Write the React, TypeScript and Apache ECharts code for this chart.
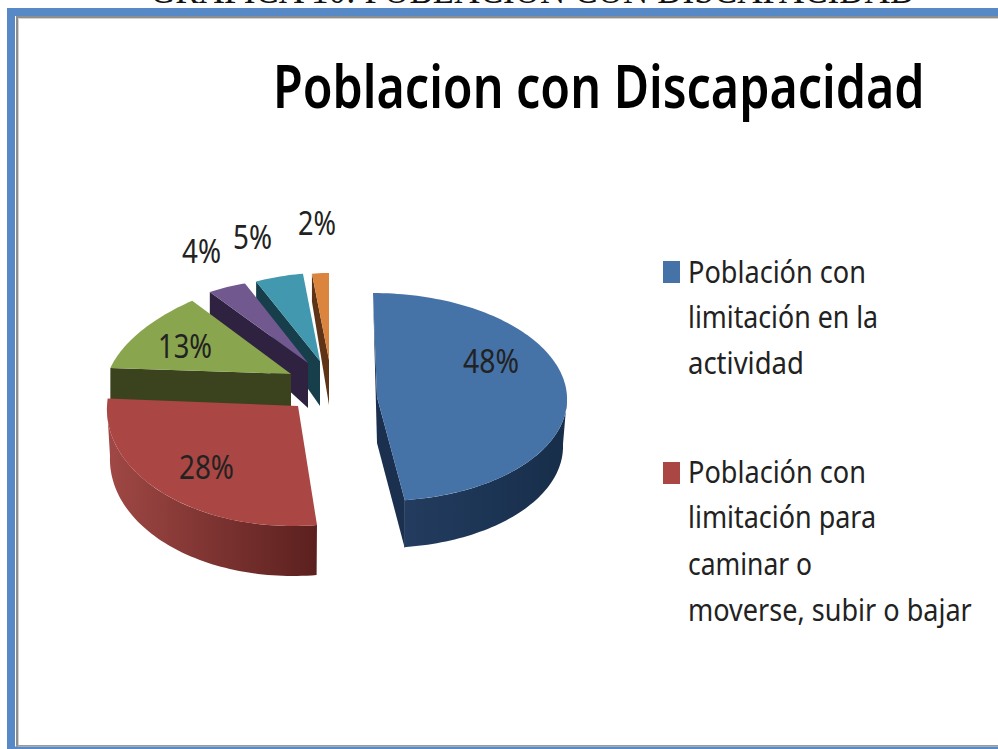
import React, { useEffect, useRef } from "react";
import * as echarts from "echarts";

// ---- data ----
const sliceNames = [
  "Población con limitación en la actividad",
  "Población con limitación para caminar o moverse, subir o bajar",
  "Categoría 3",
  "Categoría 4",
  "Categoría 5",
  "Categoría 6",
];
const sliceValues = [48, 28, 13, 4, 5, 2];
const chartTitle = "Poblacion con Discapacidad";
const croppedHeading = "GRAFICA 10: POBLACION CON DISCAPACIDAD";
const legendEntryOne = ["Población con", "limitación en la", "actividad"];
const legendEntryTwo = ["Población con", "limitación para", "caminar o", "moverse, subir o bajar"];

// ---- styling and layout ----
const topColors = ["#4572a7", "#aa4643", "#89a54e", "#71588f", "#4198af", "#db843d"];
const wallColors = ["#1a304e", "#5e201e", "#3a431e", "#2f2240", "#173f4b", "#5f3416"];
const arcGradients: string[][] = [
  ["#233c5f", "#172e4a"],
  ["#a04845", "#5b201e"],
  ["#000", "#000"],
  ["#000", "#000"],
  ["#000", "#000"],
  ["#000", "#000"],
];
// apex, radii at the start and end of the slice, lean of the vertical axis and wall depths
const sliceGeometry = [
  { ax: 377, ay: 397, rxS: 190, rxE: 190, ryS: 104, ryE: 104, lean: 4, wallIn: 46, wallOut: 48, arcT: 47, arcShrink: 4, sliver: true },
  { ax: 298, ay: 406, rxS: 191, rxE: 191, ryS: 120, ryE: 120, lean: -5, wallIn: 0, wallOut: 0, arcT: 50, arcShrink: 3, sliver: false },
  { ax: 291, ay: 374, rxS: 181, rxE: 155, ryS: 95, ryE: 95, lean: 0, wallIn: 35, wallOut: 33, arcT: 0, arcShrink: 0, sliver: false },
  { ax: 308, ay: 363, rxS: 154, rxE: 148, ryS: 92, ryE: 88, lean: 0, wallIn: 45, wallOut: 26, arcT: 0, arcShrink: 0, sliver: false },
  { ax: 320, ay: 361, rxS: 150, rxE: 136, ryS: 88, ryE: 88, lean: 0, wallIn: 45, wallOut: 33, arcT: 0, arcShrink: 0, sliver: false },
  { ax: 329, ay: 360, rxS: 136, rxE: 136, ryS: 87, ryE: 87, lean: 0, wallIn: 45, wallOut: 28, arcT: 0, arcShrink: 0, sliver: false },
];
const labelBoxes = [
  { left: 463, right: 519, cy: 360.5 },
  { left: 179, right: 234, cy: 466 },
  { left: 158, right: 212, cy: 345 },
  { left: 182, right: 221, cy: 250.5 },
  { left: 233, right: 272, cy: 236.5 },
  { left: 298, right: 336, cy: 222.5 },
];
const legendRows = [
  { lines: legendEntryOne, ys: [271, 316, 362], widths: [178, 190, 116], swatchY: 261, color: topColors[0] },
  { lines: legendEntryTwo, ys: [471, 516, 563, 609], widths: [178, 188, 124, 284], swatchY: 462, color: topColors[1] },
];
const FRAME = "#5689c6";
const TEXT_FONT = '"Noto Sans"';

function fitScale(text: string, font: string, width: number): number {
  const ctx = document.createElement("canvas").getContext("2d");
  if (!ctx) return 1;
  ctx.font = font;
  return width / ctx.measureText(text).width;
}

const toRad = (d: number) => (d * Math.PI) / 180;

function renderSlice(params: any, api: any) {
  const i = api.value(0) as number;
  const total = sliceValues.reduce((a, b) => a + b, 0);
  const before = sliceValues.slice(0, i).reduce((a, b) => a + b, 0);
  const start = (before / total) * 360;
  const end = start + ((api.value(1) as number) / total) * 360;
  const g = sliceGeometry[i];

  const point = (deg: number, dy = 0, shrink = 0): number[] => {
    const t = end === start ? 0 : (deg - start) / (end - start);
    const rx = g.rxS + (g.rxE - g.rxS) * t - shrink;
    const ry = g.ryS + (g.ryE - g.ryS) * t;
    const th = toRad(deg);
    return [g.ax + rx * Math.sin(th) - g.lean * Math.cos(th), g.ay - ry * Math.cos(th) + dy];
  };
  const arc = (a: number, b: number, dy = 0, shrink = 0): number[][] => {
    const n = Math.max(2, Math.ceil(Math.abs(b - a) / 1.5));
    const pts: number[][] = [];
    for (let k = 0; k <= n; k++) pts.push(point(a + ((b - a) * k) / n, dy, shrink));
    return pts;
  };

  const z = 100 - i * 10;
  const children: any[] = [];
  const apex = [g.ax, g.ay];
  const apexLow = [g.ax, g.ay + g.wallIn];

  // a cut wall shows only when it faces the viewer
  const startVisible = Math.sin(toRad(start)) < -1e-6;
  const endVisible = Math.sin(toRad(end)) > 1e-6;
  if (startVisible && g.wallIn > 0) {
    const p = point(start);
    children.push({
      type: "polygon", z2: z,
      shape: { points: [p, apex, apexLow, [p[0], p[1] + g.wallOut]] },
      style: { fill: wallColors[i] }, silent: true,
    });
  }
  if (endVisible && g.wallIn > 0) {
    const p = point(end);
    children.push({
      type: "polygon", z2: z,
      shape: { points: [p, apex, apexLow, [p[0], p[1] + g.wallOut]] },
      style: { fill: wallColors[i] }, silent: true,
    });
  }
  if (g.sliver) {
    children.push({
      type: "polygon", z2: z,
      shape: { points: [point(start), apex, apexLow] },
      style: { fill: wallColors[i] }, silent: true,
    });
  }
  // outer rim: only the part between 90° and 270° faces the viewer
  const rimA = Math.max(start, 90);
  const rimB = Math.min(end, 270);
  if (g.arcT > 0 && rimB > rimA) {
    const top = arc(rimA, rimB);
    const low = arc(rimA, rimB, g.arcT, g.arcShrink).reverse();
    const colors = arcGradients[i];
    children.push({
      type: "polygon", z2: z + 1,
      shape: { points: top.concat(low) },
      style: {
        fill: new echarts.graphic.LinearGradient(0, 0, 1, 0, [
          { offset: 0, color: colors[0] },
          { offset: 1, color: colors[1] },
        ]),
      },
      silent: true,
    });
  }
  // top face
  children.push({
    type: "polygon", z2: z + 2,
    shape: { points: [apex, ...arc(start, end)] },
    style: { fill: topColors[i] }, silent: true,
  });
  // percentage label
  const text = `${api.value(1)}%`;
  const box = labelBoxes[i];
  const font = `400 33px ${TEXT_FONT}`;
  children.push({
    type: "text", z2: 500, silent: true,
    x: box.left, y: box.cy,
    scaleX: fitScale(text, font, box.right - box.left),
    style: {
      text, fill: "#222222", font,
      align: "left", verticalAlign: "middle",
    },
  });
  return { type: "group", children };
}

function buildGraphic() {
  const elements: any[] = [];
  const rect = (x: number, y: number, width: number, height: number, fill: string) =>
    elements.push({ type: "rect", silent: true, shape: { x, y, width, height }, style: { fill } });

  // the heading above the frame is cut by the page's top edge, as in the reference
  const headFont = `400 38px "Liberation Serif"`;
  elements.push({
    type: "text", x: 150, y: 9, silent: true,
    scaleX: fitScale(croppedHeading, headFont, 767),
    style: { text: croppedHeading, font: headFont, fill: "#111111", align: "left", verticalAlign: "bottom" },
  });

  // picture frame
  rect(7, 8, 991, 8, FRAME);
  rect(7, 8, 8, 741, FRAME);
  rect(15, 746.5, 983, 2.5, FRAME);
  rect(16, 16, 982, 2, "#8e8e8e");
  rect(16, 16, 2, 731, "#8e8e8e");
  rect(18, 18, 980, 1, "#d2d2d2");
  rect(18, 18, 1, 727, "#d2d2d2");
  rect(16, 745, 982, 1.5, "#9a9a9a");

  const titleFont = `600 59px ${TEXT_FONT}`;
  elements.push({
    type: "text", x: 273, y: 85, silent: true,
    scaleX: fitScale(chartTitle, titleFont, 652),
    style: { text: chartTitle, font: titleFont, fill: "#000000", align: "left", verticalAlign: "middle" },
  });

  legendRows.forEach((row) => {
    rect(663, row.swatchY, 17, 22, row.color);
    row.lines.forEach((line, k) => {
      const font = `400 31px ${TEXT_FONT}`;
      elements.push({
        type: "text", x: 688, y: row.ys[k], silent: true,
        scaleX: fitScale(line, font, row.widths[k]),
        style: { text: line, font, fill: "#222222", align: "left", verticalAlign: "middle" },
      });
    });
  });
  return elements;
}

export default function App() {
  const ref = useRef<HTMLDivElement>(null);
  useEffect(() => {
    document.body.style.margin = "0";
    const chart = echarts.init(ref.current as HTMLDivElement, undefined, { renderer: "svg" });
    chart.setOption({
      animation: false,
      backgroundColor: "#ffffff",
      graphic: { elements: buildGraphic() },
      series: [
        {
          type: "custom",
          name: "Poblacion con Discapacidad",
          coordinateSystem: "none",
          renderItem: renderSlice,
          data: sliceValues.map((v, i) => ({ name: sliceNames[i], value: [i, v] })),
          silent: true,
        },
      ],
    });
    return () => chart.dispose();
  }, []);
  return <div ref={ref} style={{ width: 998, height: 749, overflow: "hidden" }} />;
}
